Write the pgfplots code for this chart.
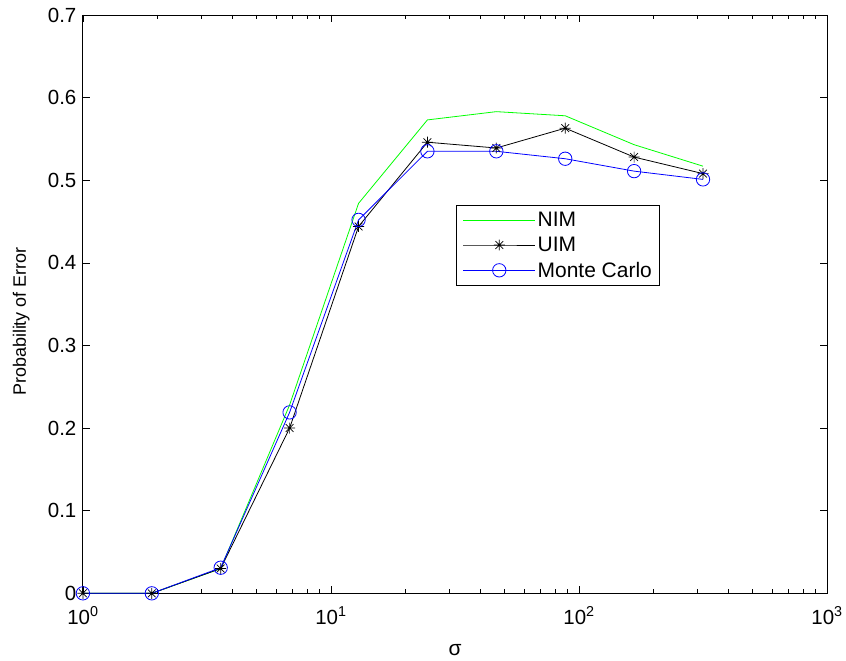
\documentclass[border=0pt]{standalone}
\usepackage{fontspec}
\setmainfont{Liberation Sans}
\usepackage{pgfplots}
\pgfplotsset{compat=1.18}

\definecolor{nimgreen}{RGB}{0,255,0}
\definecolor{mcblue}{RGB}{0,0,255}

% eight-armed star: a plus and a cross of equal arm length
\pgfdeclareplotmark{starburst}{%
  \pgfpathmoveto{\pgfqpoint{-\pgfplotmarksize}{0pt}}%
  \pgfpathlineto{\pgfqpoint{\pgfplotmarksize}{0pt}}%
  \pgfpathmoveto{\pgfqpoint{0pt}{-\pgfplotmarksize}}%
  \pgfpathlineto{\pgfqpoint{0pt}{\pgfplotmarksize}}%
  \pgfpathmoveto{\pgfqpoint{-0.7071\pgfplotmarksize}{-0.7071\pgfplotmarksize}}%
  \pgfpathlineto{\pgfqpoint{0.7071\pgfplotmarksize}{0.7071\pgfplotmarksize}}%
  \pgfpathmoveto{\pgfqpoint{-0.7071\pgfplotmarksize}{0.7071\pgfplotmarksize}}%
  \pgfpathlineto{\pgfqpoint{0.7071\pgfplotmarksize}{-0.7071\pgfplotmarksize}}%
  \pgfusepathqstroke
}

\begin{document}
\begin{tikzpicture}
\begin{axis}[
  xmode=log,
  scale only axis,
  width=745pt, height=579pt,
  xmin=1, xmax=1000, ymin=0, ymax=0.7,
  xtick={1,10,100,1000},
  xticklabels={10\textsuperscript{0},10\textsuperscript{1},10\textsuperscript{2},10\textsuperscript{3}},
  ytick={0,0.1,0.2,0.3,0.4,0.5,0.6,0.7},
  yticklabels={0,0.1,0.2,0.3,0.4,0.5,0.6,0.7},
  tick label style={font=\fontsize{20.5}{24}\selectfont},
  yticklabel style={xshift=-3pt},
  xticklabel style={yshift=-10pt},
  /pgf/number format/assume math mode=true,
  xlabel={σ},
  ylabel={Probability of Error},
  xlabel style={font=\fontsize{21}{24}\selectfont, at={(axis description cs:0.5,-0.098)}, anchor=center},
  ylabel style={font=\fontsize{18}{21}\selectfont, at={(axis description cs:-0.083,0.47)}, anchor=center},
  tick align=inside,
  major tick length=7.5pt,
  minor tick length=4pt,
  every tick/.style={black, line width=0.6pt},
  axis line style={line width=0.9pt},
  legend style={
    at={(axis description cs:0.502,0.672)}, anchor=north west,
    font=\fontsize{21}{24}\selectfont,
    line width=0.9pt,
    row sep=5pt,
    inner xsep=6pt, inner ysep=5pt,
  },
  legend cell align=left,
  legend image code/.code={
    \draw[mark repeat=2,mark phase=2] plot coordinates {(0pt,0pt) (36pt,0pt) (72pt,0pt)};
  },
]
% NIM
\addplot[color=nimgreen, draw=nimgreen, line width=0.8pt, mark=none] coordinates {
  (1,0) (1.896,0) (3.594,0.030) (6.813,0.228) (12.92,0.472)
  (24.48,0.573) (46.42,0.583) (88.0,0.578) (166.8,0.543) (316.2,0.517)
};
\addlegendentry{NIM}
% UIM
\addplot[color=black, draw=black, line width=0.8pt, mark=starburst, mark size=5.5pt,
  mark options={line width=0.7pt}] coordinates {
  (1,0) (1.896,0) (3.594,0.030) (6.813,0.200) (12.92,0.444)
  (24.48,0.546) (46.42,0.539) (88.0,0.563) (166.8,0.528) (316.2,0.508)
};
\addlegendentry{UIM}
% Monte Carlo
\addplot[color=mcblue, draw=mcblue, line width=0.8pt, mark=o, mark size=6.7pt,
  mark options={line width=0.8pt}] coordinates {
  (1,0) (1.896,0) (3.594,0.031) (6.813,0.219) (12.92,0.452)
  (24.48,0.535) (46.42,0.535) (88.0,0.526) (166.8,0.511) (316.2,0.501)
};
\addlegendentry{Monte Carlo}
\end{axis}
% page frame around the 745 x 579 axis box
\path (-83pt,-67pt) rectangle (763pt,594pt);
\end{tikzpicture}
\end{document}
